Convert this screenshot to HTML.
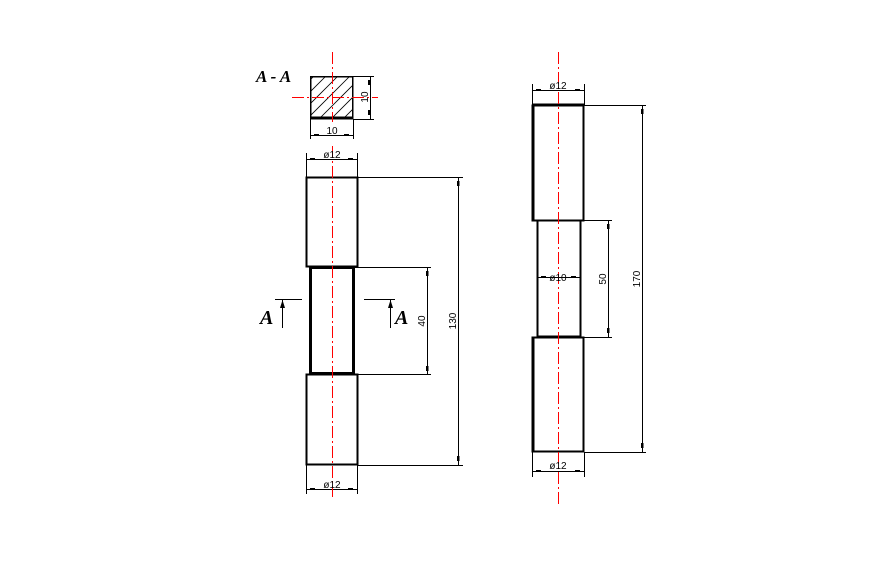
<!DOCTYPE html>
<html><head><style>body{margin:0;background:#fff}svg{display:block}text{font-family:"Liberation Sans",sans-serif;font-size:10px;fill:#000}</style></head>
<body>
<svg width="886" height="570" viewBox="0 0 886 570" xmlns="http://www.w3.org/2000/svg">
<defs>
<clipPath id="sq"><rect x="311" y="77" width="41" height="41"/></clipPath>
</defs>
<g stroke="#000" fill="none" shape-rendering="crispEdges">
<g clip-path="url(#sq)" stroke-width="0.8" shape-rendering="auto">
<path d="M300,90 L325,65 M300,102 L337,65 M300,114 L349,65 M300,126 L361,65 M312,126 L373,65 M324,126 L385,65 M336,126 L397,65 M348,126 L409,65"/>
</g>
<rect x="310.5" y="76.5" width="42" height="42" stroke-width="1.5"/>
<line x1="310" y1="118" x2="353" y2="118" stroke-width="3"/>
<path d="M353,76.5 H374 M353,119.5 H374 M370.5,76 V119 M310.5,119 V139 M353.5,119 V139 M310,135.5 H353" stroke-width="1"/>
<rect x="306.5" y="177.5" width="51" height="89" stroke-width="2"/>
<rect x="310.5" y="267.5" width="43" height="106" stroke-width="3"/>
<rect x="306.5" y="374.5" width="51" height="90" stroke-width="2"/>
<path d="M306.5,153 V177 M357.5,153 V177 M306,159.5 H357 M306.5,465 V494 M357.5,465 V494 M306,489.5 H357" stroke-width="1"/>
<path d="M357,177.5 H463 M357,465.5 H463 M458.5,177 V465 M354,267.5 H431 M354,374.5 H431 M427.5,267 V374" stroke-width="1"/>
<path d="M275,299.5 H302 M282.5,300 V328 M364,299.5 H395 M390.5,300 V328" stroke-width="1.3"/>
<rect x="532.5" y="105.5" width="51" height="115" stroke-width="2"/>
<line x1="532" y1="105" x2="584" y2="105" stroke-width="3"/>
<line x1="533" y1="105" x2="533" y2="220" stroke-width="3"/>
<rect x="537.5" y="220.5" width="43" height="116" stroke-width="2"/>
<rect x="532.5" y="337.5" width="51" height="114" stroke-width="2"/>
<line x1="533" y1="337" x2="533" y2="452" stroke-width="3"/>
<path d="M532.5,84 V105 M584.5,84 V105 M532,90.5 H584 M532.5,452 V477 M584.5,452 V477 M532,471.5 H584 M537,277.5 H580" stroke-width="1"/>
<path d="M584,105.5 H646 M584,452.5 H646 M642.5,105 V452 M580,220.5 H612 M580,337.5 H612 M608.5,220 V337" stroke-width="1"/>
</g>
<g fill="#000">
<rect x="368" y="80" width="3" height="5"/><rect x="368" y="110" width="3" height="5"/>
<rect x="314" y="134" width="5" height="2"/><rect x="344" y="134" width="5" height="2"/>
<rect x="310" y="158" width="5" height="2"/><rect x="348" y="158" width="5" height="2"/>
<rect x="310" y="488" width="5" height="2"/><rect x="348" y="488" width="5" height="2"/>
<rect x="457" y="181" width="2.5" height="5"/><rect x="457" y="456" width="2.5" height="5"/>
<rect x="426" y="271" width="2.5" height="5"/><rect x="426" y="366" width="2.5" height="5"/>
<path d="M282.5,300 L280,308 L285,308Z M390.5,300 L388,308 L393,308Z"/>
<rect x="536" y="89" width="5" height="2"/><rect x="575" y="89" width="5" height="2"/>
<rect x="536" y="470" width="5" height="2"/><rect x="575" y="470" width="5" height="2"/>
<rect x="541" y="276" width="5" height="2"/><rect x="571" y="276" width="5" height="2"/>
<rect x="641" y="109" width="2.5" height="5"/><rect x="641" y="443" width="2.5" height="5"/>
<rect x="607" y="224" width="2.5" height="5"/><rect x="607" y="328" width="2.5" height="5"/>
</g>
<g stroke="#f00" stroke-width="1" stroke-dasharray="12,3,2,3" fill="none" shape-rendering="crispEdges">
<line x1="332.5" y1="52" x2="332.5" y2="122"/>
<line x1="292" y1="97.5" x2="378" y2="97.5"/>
<line x1="332.5" y1="146" x2="332.5" y2="497"/>
<line x1="558.5" y1="52" x2="558.5" y2="505"/>
</g>
<text x="256" y="82" style="font:italic bold 17px 'Liberation Serif',serif">A - A</text>
<text x="260" y="324" style="font:italic bold 20px 'Liberation Serif',serif">A</text>
<text x="395" y="324" style="font:italic bold 20px 'Liberation Serif',serif">A</text>
<text x="332" y="134" text-anchor="middle">10</text>
<text transform="translate(368,97) rotate(-90)" text-anchor="middle">10</text>
<text x="332" y="158" text-anchor="middle">ø12</text>
<text x="332" y="488" text-anchor="middle">ø12</text>
<text transform="translate(456,321) rotate(-90)" text-anchor="middle">130</text>
<text transform="translate(425,321) rotate(-90)" text-anchor="middle">40</text>
<text x="558" y="89" text-anchor="middle">ø12</text>
<text x="558" y="469" text-anchor="middle">ø12</text>
<text x="558" y="281" text-anchor="middle">ø10</text>
<text transform="translate(606,279) rotate(-90)" text-anchor="middle">50</text>
<text transform="translate(640,279) rotate(-90)" text-anchor="middle">170</text>
</svg>
</body></html>
